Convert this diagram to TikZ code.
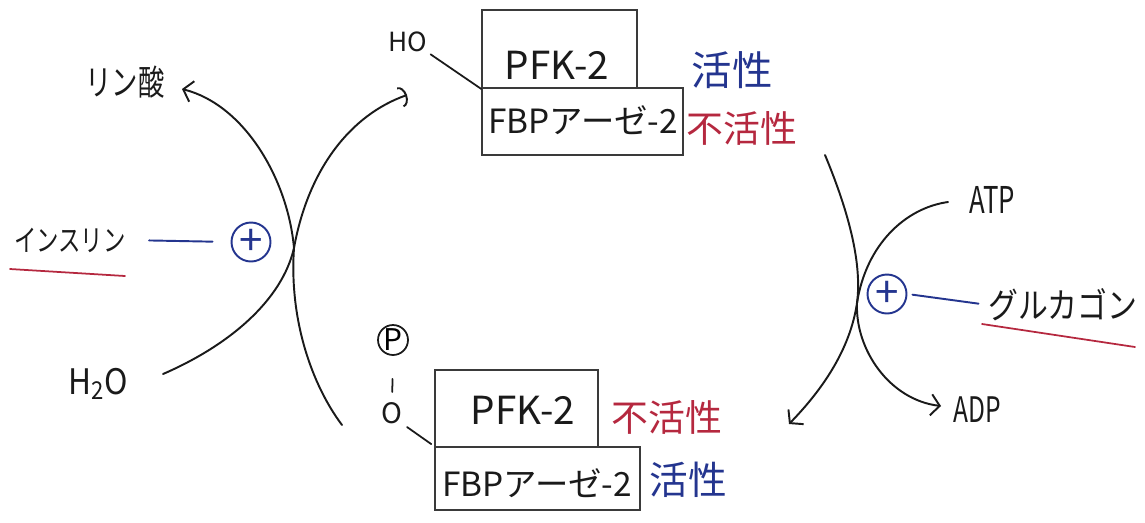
\documentclass[tikz,border=0pt]{standalone}
\usepackage{fontspec}
\setmainfont{Noto Sans CJK JP}
\usetikzlibrary{arrows.meta,calc}
\definecolor{ink}{HTML}{1A1A1A}
\definecolor{actblue}{HTML}{24358F}
\definecolor{inactred}{HTML}{B5283F}
\definecolor{boxgray}{HTML}{3A3A3A}

\begin{document}
\begin{tikzpicture}[x=0.02cm,y=-0.02cm,
  flow/.style={draw=ink, line width=1.1pt, line cap=round},
  barb/.style={-{Straight Barb[length=5pt,width=12pt,line width=1.1pt]}},
  arcbarb/.style={-{Arc Barb[length=4pt,width=12pt,line width=1.1pt]}},
  enzbox/.style={draw=boxgray, line width=1pt, inner sep=0pt, rectangle},
  lbl/.style={inner sep=0pt, text=ink},
  act/.style={inner sep=0pt, text=actblue},
  inact/.style={inner sep=0pt, text=inactred},
  plus/.style={circle, draw=actblue, line width=1.1pt, minimum size=0.78cm, inner sep=0pt,
    text=actblue, font=\fontsize{24}{24}\selectfont},
  effector/.style={draw=actblue, line width=1.1pt, line cap=round},
  hormline/.style={draw=inactred, line width=1pt, line cap=round},
  bond/.style={draw=ink, line width=1pt, line cap=round}]

\useasboundingbox (0,0) rectangle (1145,522);

% --- upper enzyme pair (dephosphorylated) ---
\node[enzbox, minimum width=3.1cm, minimum height=1.56cm] (pfkTop) at (559.5,49) {};
\node[enzbox, minimum width=4.02cm, minimum height=1.34cm] (fbpTop) at (582.5,121.5) {};
\node[lbl, font=\fontsize{22}{24}\selectfont] (pfkTopT) at (557,65) {PFK-2};
\node[lbl, font=\fontsize{19}{22}\selectfont] (fbpTopT) at (583,120) {FBPアーゼ-2};
\node[act, font=\fontsize{23}{25}\selectfont] (actTop) at (732,70) {活性};
\node[inact, font=\fontsize{21}{24}\selectfont] (inactTop) at (742,128) {不活性};
\node[lbl, font=\fontsize{15}{16}\selectfont] (ho) at (408,42) {HO};
\draw[bond, shorten <=2pt] (ho.south east) -- (pfkTop.south west);

% --- lower enzyme pair (phosphorylated) ---
\node[enzbox, minimum width=3.26cm, minimum height=1.54cm] (pfkBot) at (516.5,408.5) {};
\node[enzbox, minimum width=4.1cm, minimum height=1.26cm] (fbpBot) at (537.5,478.5) {};
\node[lbl, font=\fontsize{22}{24}\selectfont] (pfkBotT) at (523,410) {PFK-2};
\node[lbl, font=\fontsize{19}{22}\selectfont] (fbpBotT) at (537,483) {FBPアーゼ-2};
\node[inact, font=\fontsize{21}{24}\selectfont] (inactBot) at (667,417) {不活性};
\node[act, font=\fontsize{22}{24}\selectfont] (actBot) at (688,480) {活性};
\node[circle, draw=ink, line width=1pt, minimum size=0.6cm, inner sep=0pt,
  font=\fontsize{17}{17}\selectfont] (pgrp) at (393,340) {P};
\node[lbl, font=\fontsize{16}{16}\selectfont] (oxy) at (392,413) {O};
\draw[bond, shorten <=0.46cm, shorten >=0.2cm] (pgrp) -- (oxy);
\draw[bond, shorten <=3pt, shorten >=2pt] (oxy.south east) -- (fbpBot.north west);

% --- left side: insulin-stimulated dephosphorylation ---
\node[lbl, font=\fontsize{20}{22}\selectfont] (phos) at (125,82) {\scalebox{0.75}[1]{リン酸}};
\node[lbl, font=\fontsize{20}{22}\selectfont] (h2o) at (98,384) {\scalebox{0.9}[1]{H\textsubscript{2}O}};
\node[lbl, font=\fontsize{17}{19}\selectfont] (ins) at (70,240) {\scalebox{0.75}[1]{インスリン}};
\node[plus] (plusL) at (251,242) {+};

\coordinate (xL) at (294,248);
\coordinate (h2oIn) at (163,374);
\coordinate (hoIn) at (407,95);
\coordinate (pStart) at (342,425);
\coordinate (phosIn) at (182,89);

\draw[flow, arcbarb] (h2oIn) .. controls (230,345) and (282,300) .. (xL)
  .. controls (308,170) and (350,115) .. (hoIn);
\draw[flow, barb] (pStart) .. controls (312,385) and (289,320) .. (xL)
  .. controls (288,180) and (245,105) .. (phosIn);

\draw[effector, shorten <=0.46cm, shorten >=0.36cm] (ins.east) -- (plusL.west);
\coordinate (insUL) at (10,269);
\coordinate (insUR) at (125,276);
\draw[hormline] (insUL) -- (insUR);

% --- right side: glucagon-stimulated phosphorylation ---
\node[lbl, font=\fontsize{21}{23}\selectfont] (atp) at (992,200) {\scalebox{0.7}[1]{ATP}};
\node[lbl, font=\fontsize{20}{22}\selectfont] (adp) at (977,410) {\scalebox{0.7}[1]{ADP}};
\node[lbl, font=\fontsize{20}{22}\selectfont] (glu) at (1063,305) {\scalebox{0.85}[1]{グルカゴン}};
\node[plus] (plusR) at (887,294) {+};

\coordinate (xR) at (857,303);
\coordinate (cTop) at (825,155);
\coordinate (cBot) at (789,424);
\coordinate (atpOut) at (948,202);
\coordinate (adpIn) at (941,406);

\draw[flow, barb] (cTop) .. controls (850,215) and (862,265) .. (xR)
  .. controls (850,350) and (822,390) .. (cBot);
\draw[flow, barb] (atpOut) .. controls (905,208) and (866,245) .. (xR)
  .. controls (855,350) and (890,400) .. (adpIn);

\draw[effector, shorten <=0.1cm, shorten >=0.2cm] (plusR.east) -- (glu.west);
\coordinate (gluUL) at (982,324);
\coordinate (gluUR) at (1135,347);
\draw[hormline] (gluUL) -- (gluUR);
\end{tikzpicture}
\end{document}
